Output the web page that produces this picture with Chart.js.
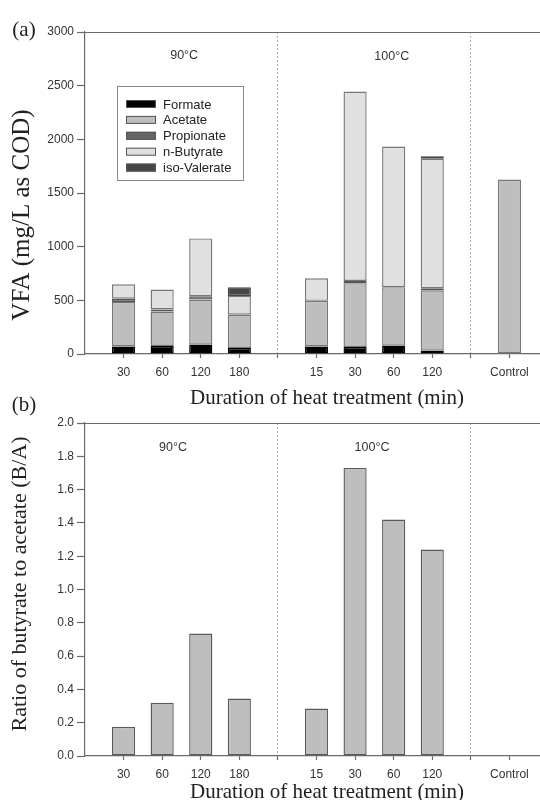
<!DOCTYPE html>
<html>
<head>
<meta charset="utf-8">
<script src="https://cdn.jsdelivr.net/npm/chart.js@4/dist/chart.umd.min.js"></script>
<style>
  html, body { margin: 0; padding: 0; background: #fff; }
  #wrap { position: relative; width: 540px; height: 800px; overflow: hidden; }
  canvas { position: absolute; left: 0; }
  #chartA { top: 0; }
  #chartB { top: 395px; }
</style>
</head>
<body>
<div id="wrap">
  <canvas id="chartA" width="548" height="412"></canvas>
  <canvas id="chartB" width="548" height="405"></canvas>
</div>
<script>
// blank categories are the gaps between the 90C, 100C and control groups
const categories = ['', '30', '60', '120', '180', '', '15', '30', '60', '120', '', 'Control', '']
const separators = [5, 10]

// VFA composition (mg/L as COD)
const formate     = [null, 70, 75, 87, 56, null, 70, 65, 78, 31, null, null, null]
const acetate     = [null, 415, 320, 420, 310, null, 425, 595, 545, 562, null, 1625, null]
const propionate  = [null, 30, 20, 30, null, null, null, 20, null, 20, null, null, null]
const nButyrate   = [null, 135, 185, 540, 175, null, 210, 1765, 1310, 1205, null, null, null]
const isoValerate = [null, null, null, null, 80, null, null, null, null, 25, null, null, null]

// butyrate / acetate ratio
const ratio = [null, 0.175, 0.32, 0.735, 0.345, null, 0.285, 1.73, 1.42, 1.24, null, null, null]

const groupLabels = ['90°C', '100°C']

Chart.defaults.font.family = '"Liberation Sans", Arial, sans-serif'
Chart.defaults.font.size = 12
Chart.defaults.color = '#333'

const AXIS = '#6a6a6a'
const SERIF = '"Liberation Serif", "Times New Roman", serif'

const decor = {
    id: 'decor',
    afterDraw(chart, args, o) {
        const { ctx, chartArea: a, scales: { x, y } } = chart
        ctx.save()

        // top frame line
        ctx.strokeStyle = AXIS
        ctx.lineWidth = 1.2
        ctx.beginPath()
        ctx.moveTo(a.left, a.top + 0.5)
        ctx.lineTo(a.right, a.top + 0.5)
        ctx.stroke()

        // temperature labels
        ctx.fillStyle = '#333'
        ctx.font = '12.5px "Liberation Sans", Arial, sans-serif'
        ctx.textAlign = 'center'
        ctx.textBaseline = 'middle'
        o.groups.forEach((g, i) => {
            ctx.fillText(groupLabels[i], x.getPixelForValue(g[0]), y.getPixelForValue(g[1]))
        })

        // panel letter
        ctx.fillStyle = '#222'
        ctx.font = '21px ' + SERIF
        ctx.fillText(o.panel, 24, o.panelY)

        // axis titles
        ctx.font = '21px ' + SERIF
        ctx.fillText(o.xTitle, o.xTitlePos[0], o.xTitlePos[1])
        ctx.save()
        ctx.translate(o.yTitlePos[0], o.yTitlePos[1])
        ctx.rotate(-Math.PI / 2)
        ctx.font = o.yTitleSize + 'px ' + SERIF
        ctx.fillText(o.yTitle, 0, 0)
        ctx.restore()

        // legend box
        if (o.legend) {
            const lx = 117, ly = 86, lw = 126, lh = 94
            ctx.fillStyle = '#fff'
            ctx.fillRect(lx, ly, lw, lh)
            ctx.strokeStyle = '#8a8a8a'
            ctx.lineWidth = 1
            ctx.strokeRect(lx + 0.5, ly + 0.5, lw, lh)
            ctx.font = '13px "Liberation Sans", Arial, sans-serif'
            ctx.textAlign = 'left'
            chart.data.datasets.forEach((ds, i) => {
                const cy = 104 + i * 15.9
                ctx.fillStyle = ds.backgroundColor
                ctx.fillRect(126, cy - 4, 30, 8)
                ctx.strokeStyle = '#555'
                ctx.strokeRect(126.5, cy - 3.5, 29, 7)
                ctx.fillStyle = '#222'
                ctx.fillText(ds.label, 163, cy + 1)
            })
        }
        ctx.restore()
    }
}

function xAxis(height) {
    return {
        type: 'category',
        stacked: true,
        offset: false,
        grid: {
            offset: false,
            color: c => separators.includes(c.index) ? '#b0b0b0' : 'transparent',
            lineWidth: 1,
            tickLength: 4,
            tickWidth: 1.2,
            tickColor: c => c.index === 0 ? 'transparent' : AXIS
        },
        border: { color: AXIS, width: 1.2, dash: [2, 2] },
        ticks: { autoSkip: false, maxRotation: 0, padding: 7, color: '#333' },
        afterFit: s => { s.height = height; s.paddingLeft = 0; s.paddingRight = 0 }
    }
}

function yAxis(max, step, fmt) {
    return {
        stacked: true,
        min: 0,
        max: max,
        grid: { drawOnChartArea: false, tickLength: 8, tickWidth: 1.2, tickColor: AXIS },
        border: { color: AXIS, width: 1.2 },
        ticks: { stepSize: step, autoSkip: false, padding: 3, color: '#333', callback: fmt },
        afterFit: s => { s.width = 85; s.paddingTop = 0; s.paddingBottom = 0 }
    }
}

function seg(label, data, fill, edge) {
    return {
        label, data,
        backgroundColor: fill,
        borderColor: edge || '#777777',
        borderWidth: 1.4,
        borderSkipped: false,
        barPercentage: 0.6,
        categoryPercentage: 1
    }
}

new Chart(document.getElementById('chartA'), {
    type: 'bar',
    data: {
        labels: categories,
        datasets: [
            seg('Formate', formate, '#000000', '#000000'),
            seg('Acetate', acetate, '#bebebe'),
            seg('Propionate', propionate, '#646464', '#555555'),
            seg('n-Butyrate', nButyrate, '#e0e0e0'),
            seg('iso-Valerate', isoValerate, '#464646', '#444444')
        ]
    },
    options: {
        responsive: false,
        animation: false,
        layout: { padding: { top: 32, right: 0, bottom: 0, left: 0 } },
        plugins: {
            legend: { display: false },
            tooltip: { enabled: false },
            decor: {
                panel: '(a)', panelY: 30,
                groups: [[2.57, 2777], [7.95, 2768]],
                xTitle: 'Duration of heat treatment (min)', xTitlePos: [327, 398],
                yTitle: 'VFA (mg/L as COD)', yTitlePos: [22, 215], yTitleSize: 25,
                legend: true
            }
        },
        scales: {
            x: xAxis(58),
            y: yAxis(3000, 500, v => v)
        }
    },
    plugins: [decor]
})

new Chart(document.getElementById('chartB'), {
    type: 'bar',
    data: {
        labels: categories,
        datasets: [{
            label: 'B/A',
            data: ratio,
            backgroundColor: '#bebebe',
            borderColor: '#5a5a5a',
            borderWidth: 1.4,
            borderSkipped: false,
            barPercentage: 0.6,
            categoryPercentage: 1
        }]
    },
    options: {
        responsive: false,
        animation: false,
        layout: { padding: { top: 28, right: 0, bottom: 0, left: 0 } },
        plugins: {
            legend: { display: false },
            tooltip: { enabled: false },
            decor: {
                panel: '(b)', panelY: 10,
                groups: [[2.28, 1.85], [7.44, 1.85]],
                xTitle: 'Duration of heat treatment (min)', xTitlePos: [327, 397],
                yTitle: 'Ratio of butyrate to acetate (B/A)', yTitlePos: [20, 189], yTitleSize: 22,
                legend: false
            }
        },
        scales: {
            x: xAxis(44),
            y: yAxis(2.0, 0.2, v => v.toFixed(1))
        }
    },
    plugins: [decor]
})
</script>
</body>
</html>
